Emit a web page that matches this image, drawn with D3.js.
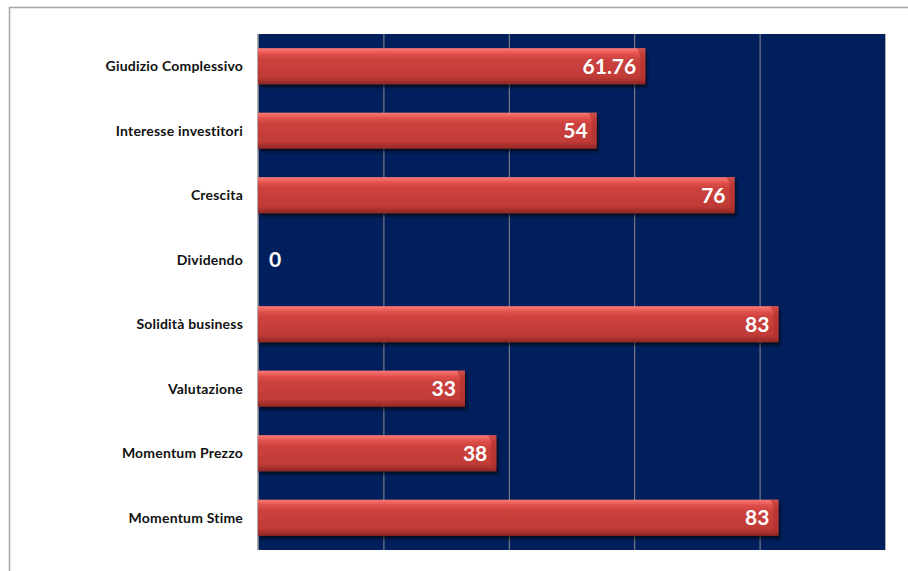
<!DOCTYPE html>
<html>
<head>
<meta charset="utf-8">
<script src="https://cdn.jsdelivr.net/npm/d3@7"></script>
<style>
  body { margin: 0; background: #fff; }
  svg { display: block; }
  text { font-variant-ligatures: none; }
</style>
</head>
<body>
<div id="chart"></div>
<script>
// data
var categories = ["Giudizio Complessivo", "Interesse investitori", "Crescita", "Dividendo",
                  "Solidità business", "Valutazione", "Momentum Prezzo", "Momentum Stime"];
var values = [61.76, 54, 76, 0, 83, 33, 38, 83];
var labels = ["61.76", "54", "76", "0", "83", "33", "38", "83"];
var gridTicks = [0, 20, 40, 60, 80, 100];

var W = 908, H = 571;
var margin = {top: 34, right: 23, bottom: 21, left: 258},
    width = W - margin.left - margin.right,
    height = H - margin.top - margin.bottom;

var root = d3.select("#chart").append("svg")
    .attr("width", W)
    .attr("height", H);

// outer chart border
root.append("rect")
  .attr("x", 9.5).attr("y", 7.5)
  .attr("width", W).attr("height", H)
  .attr("fill", "none")
  .attr("stroke", "#a6a6a6")
  .attr("stroke-width", 1.5);

var defs = root.append("defs");
var grad = defs.append("linearGradient")
  .attr("id", "barGrad")
  .attr("x1", 0).attr("y1", 0).attr("x2", 0).attr("y2", 1);
grad.append("stop").attr("offset", "0%").attr("stop-color", "#ff7a76");
grad.append("stop").attr("offset", "16%").attr("stop-color", "#e0504b");
grad.append("stop").attr("offset", "30%").attr("stop-color", "#cc423e");
grad.append("stop").attr("offset", "80%").attr("stop-color", "#c03b37");
grad.append("stop").attr("offset", "100%").attr("stop-color", "#8e2724");

var shadow = defs.append("filter").attr("id", "shadow")
  .attr("x", "-5%").attr("y", "-20%").attr("width", "115%").attr("height", "160%");
shadow.append("feDropShadow")
  .attr("dx", 2).attr("dy", 3).attr("stdDeviation", 1.5)
  .attr("flood-color", "#000").attr("flood-opacity", 0.6);

var svg = root.append("g")
  .attr("transform", "translate(" + margin.left + "," + margin.top + ")");

var x = d3.scaleLinear().domain([0, 100]).range([0, width]);
var y = d3.scaleBand().domain(categories).range([0, height]).paddingInner(0.44).paddingOuter(0.22);

// plot background
svg.append("rect")
  .attr("width", width).attr("height", height)
  .attr("fill", "#001f5c");

// vertical gridlines
svg.selectAll(".grid")
  .data(gridTicks.slice(1))
  .enter().append("line")
    .attr("x1", d => x(d) + 0.5).attr("x2", d => x(d) + 0.5)
    .attr("y1", 0).attr("y2", height)
    .attr("stroke", d => d === 100 ? "#b0b0b0" : "#8c8c8c")
    .attr("stroke-width", 1);

// left axis line
svg.append("line")
  .attr("x1", 0).attr("x2", 0)
  .attr("y1", 0).attr("y2", height)
  .attr("stroke", "#9a9a9a")
  .attr("stroke-width", 1.5);

// bars
var bars = svg.selectAll(".bar")
  .data(values)
  .enter().append("g")
    .attr("class", "bar")
    .attr("transform", (d, i) => "translate(0," + y(categories[i]) + ")");

bars.filter(d => d > 0).append("rect")
  .attr("x", 0).attr("y", 0)
  .attr("width", d => x(d))
  .attr("height", y.bandwidth())
  .attr("fill", "url(#barGrad)")
  .attr("filter", "url(#shadow)");

// bevel at the right end of each bar
bars.filter(d => d > 0).append("path")
  .attr("d", d => {
    var e = x(d), h = y.bandwidth();
    return "M" + (e - 8) + ",0L" + e + ",0L" + e + "," + (h - 2) + "L" + (e - 5) + "," + (h - 6) + "L" + (e - 5) + ",6Z";
  })
  .attr("fill", "#a92f2c")
  .attr("opacity", 0.55);

// value labels
bars.append("text")
  .attr("x", d => d > 0 ? x(d) - 9 : 11)
  .attr("y", y.bandwidth() / 2)
  .attr("dy", "0.36em")
  .attr("text-anchor", (d, i) => values[i] > 0 ? "end" : "start")
  .attr("fill", "#fff")
  .attr("font-family", "Lato, 'Open Sans', sans-serif")
  .attr("font-weight", "bold")
  .attr("font-size", "21px")
  .text((d, i) => labels[i]);

// category labels
svg.selectAll(".cat")
  .data(categories)
  .enter().append("text")
    .attr("x", -15)
    .attr("y", d => y(d) + y.bandwidth() / 2)
    .attr("dy", "0.36em")
    .attr("text-anchor", "end")
    .attr("fill", "#111")
    .attr("font-family", "Lato, 'Open Sans', sans-serif")
    .attr("font-weight", "bold")
    .attr("font-size", "14px")
    .attr("letter-spacing", "0.2px")
    .text(d => d);
</script>
</body>
</html>
